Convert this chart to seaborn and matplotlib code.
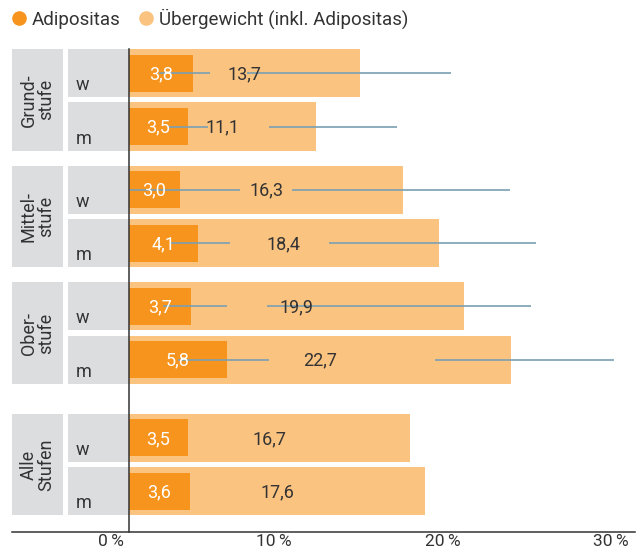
import matplotlib
matplotlib.use("Agg")
import matplotlib.pyplot as plt
import matplotlib.transforms as mtransforms
from matplotlib.patches import Rectangle
from matplotlib.lines import Line2D
import seaborn as sns
import pandas as pd

# data
groups = ["Grund-\nstufe", "Mittel-\nstufe", "Ober-\nstufe", "Alle\nStufen"]
sexes = ["w", "m", "w", "m", "w", "m", "w", "m"]
adipositas = [3.8, 3.5, 3.0, 4.1, 3.7, 5.8, 3.5, 3.6]
uebergewicht = [13.7, 11.1, 16.3, 18.4, 19.9, 22.7, 16.7, 17.6]
# confidence lines (no lines for "Alle Stufen")
adip_lo = [1.8, 2.3, 0.0, 2.5, 2.0, 2.9]
adip_hi = [4.8, 4.7, 6.6, 6.0, 5.8, 8.3]
ueber_lo = [7.0, 8.3, 9.7, 11.9, 8.2, 18.2]
ueber_hi = [19.1, 15.9, 22.6, 24.2, 23.9, 28.8]
xticks = [0, 10, 20, 30]

# layout
row_pos = [0, 1, 2.18, 3.18, 4.36, 5.36, 6.82, 7.82]
ORANGE = "#F7941D"
LIGHT = "#FBC380"
GREY = "#DCDDDF"
LINE = "#7A9FB2"
DARK = "#333333"

sns.set_style("white")
plt.rcParams["font.family"] = ["Roboto", "DejaVu Sans"]
plt.rcParams["font.size"] = 13

df = pd.DataFrame({"pos": row_pos, "adip": adipositas, "ueber": uebergewicht})

fig = plt.figure(figsize=(6.39, 5.53), dpi=100)
ax = fig.add_axes([12 / 639, 1 - 532 / 553, 623 / 639, (532 - 49) / 553])

sns.barplot(data=df, x="ueber", y="pos", orient="y", native_scale=True, width=0.9,
            color=LIGHT, saturation=1, errorbar=None, linewidth=0, ax=ax)
sns.barplot(data=df, x="adip", y="pos", orient="y", native_scale=True, width=0.69,
            color=ORANGE, saturation=1, errorbar=None, linewidth=0, ax=ax)

n_ci = len(adip_lo)
ax.hlines(row_pos[:n_ci], adip_lo, adip_hi, color=LINE, lw=1.2, zorder=4)
ax.hlines(row_pos[:n_ci], ueber_lo, ueber_hi, color=LINE, lw=1.2, zorder=4)

for p, a, u in zip(row_pos, adipositas, uebergewicht):
    ax.text(a / 2, p + 0.02, f"{a:.1f}".replace(".", ","), color="white",
            ha="center", va="center", zorder=5)
    ax.text(u / 2, p + 0.02, f"{u:.1f}".replace(".", ","), color=DARK,
            ha="center", va="center", zorder=5)

# grey label boxes on the left
for p, s in zip(row_pos, sexes):
    ax.add_patch(Rectangle((-3.62, p - 0.45), 3.62, 0.9, color=GREY, lw=0, zorder=1))
    ax.text(-3.15, p + 0.32, s, color=DARK, ha="left", va="baseline", zorder=5)
for i, g in enumerate(groups):
    top = row_pos[2 * i] - 0.45
    bot = row_pos[2 * i + 1] + 0.45
    ax.add_patch(Rectangle((-6.95, top), 3.03, bot - top, color=GREY, lw=0, zorder=1))
    ax.text(-5.43, (top + bot) / 2, g, color=DARK, rotation=90, ha="center",
            va="center", linespacing=0.95, zorder=5)

ax.set_xlim(-6.95, 30.05)
ax.set_ylim(8.58, -0.45)
ax.set_xlabel("")
ax.set_ylabel("")
ax.set_yticks([])

for side in ["top", "right"]:
    ax.spines[side].set_visible(False)
ax.spines["left"].set_position(("data", 0))
ax.spines["left"].set_color(DARK)
ax.spines["left"].set_linewidth(1.1)
ax.spines["left"].set_zorder(6)
ax.spines["bottom"].set_color(DARK)
ax.spines["bottom"].set_linewidth(1.1)

ax.set_xticks(xticks)
ax.set_xticklabels([f"{t}\u2009%" for t in xticks], ha="right", color=DARK, fontsize=12.5)
ax.tick_params(axis="x", direction="out", length=6.5, width=1.1, color=DARK, pad=-4.8)
offset = mtransforms.ScaledTranslation(-4 / 72, 0, fig.dpi_scale_trans)
for lab in ax.get_xticklabels():
    lab.set_transform(lab.get_transform() + offset)

handles = [Line2D([], [], marker="o", ls="", color=ORANGE, markersize=9.5),
           Line2D([], [], marker="o", ls="", color=LIGHT, markersize=9.5)]
fig.legend(handles, ["Adipositas", "Übergewicht (inkl. Adipositas)"],
           loc="center left", bbox_to_anchor=(11 / 639, 1 - 19 / 553), ncol=2,
           frameon=False, handlelength=0.8, handletextpad=0.3, columnspacing=0.95,
           borderpad=0, borderaxespad=0, labelcolor=DARK, fontsize=13.5)

fig.savefig("out.png", dpi=100)
